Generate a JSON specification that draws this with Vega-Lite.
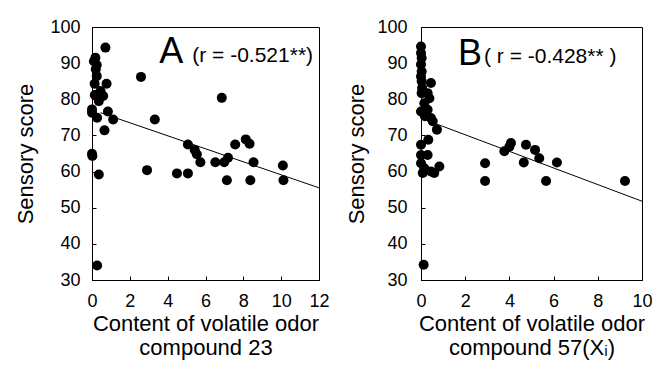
{
  "$schema": "https://vega.github.io/schema/vega-lite/v6.json",
  "background": "white",
  "padding": {"left": 14, "top": 17, "right": 5, "bottom": 5},
  "spacing": 15,
  "config": {
    "font": "Liberation Sans",
    "view": {"stroke": "black", "strokeWidth": 1},
    "axis": {
      "grid": false,
      "domainColor": "black",
      "tickColor": "black",
      "labelColor": "black",
      "titleColor": "black",
      "labelFont": "Liberation Sans",
      "titleFont": "Liberation Sans",
      "labelFontSize": 18,
      "titleFontSize": 22,
      "titleFontWeight": "normal",
      "tickSize": -4,
      "labelPadding": 16,
      "labelOverlap": false,
      "labelFlush": false,
      "titleLineHeight": 24
    },
    "axisQuantitative": {"labelOverlap": false},
    "axisX": {"titlePadding": 3},
    "axisY": {"titlePadding": 12}
  },
  "datasets": {
    "ptsA": [
      {"x": 0.71, "y": 94.3}, {"x": 0.18, "y": 91.5}, {"x": 0.1, "y": 90.5}, {"x": 0.25, "y": 89.5},
      {"x": 0.2, "y": 88.3}, {"x": 0.25, "y": 86.4}, {"x": 0.14, "y": 84.3}, {"x": 0.77, "y": 84.3},
      {"x": 0.45, "y": 82.3}, {"x": 0.15, "y": 81.2}, {"x": 0.59, "y": 80.9}, {"x": 0.36, "y": 79.5},
      {"x": 0.0, "y": 77.2}, {"x": 0.0, "y": 76.3}, {"x": 0.27, "y": 74.9}, {"x": 0.84, "y": 76.6},
      {"x": 1.12, "y": 74.4}, {"x": 0.66, "y": 71.4}, {"x": 0.0, "y": 64.9}, {"x": 0.02, "y": 64.3},
      {"x": 0.36, "y": 59.2}, {"x": 0.27, "y": 34.0},
      {"x": 2.59, "y": 86.2}, {"x": 3.32, "y": 74.4}, {"x": 2.91, "y": 60.4}, {"x": 4.49, "y": 59.5},
      {"x": 5.07, "y": 59.5}, {"x": 5.07, "y": 67.5}, {"x": 5.43, "y": 66.0}, {"x": 5.54, "y": 64.8},
      {"x": 5.73, "y": 62.6}, {"x": 6.52, "y": 62.6}, {"x": 6.86, "y": 80.4}, {"x": 6.99, "y": 62.6},
      {"x": 7.19, "y": 63.8}, {"x": 7.13, "y": 57.6}, {"x": 7.57, "y": 67.5}, {"x": 8.13, "y": 68.9},
      {"x": 8.33, "y": 67.7}, {"x": 8.54, "y": 62.6}, {"x": 8.37, "y": 57.6}, {"x": 10.09, "y": 61.7},
      {"x": 10.12, "y": 57.6}
    ],
    "lineA": [{"x": 0.45, "y": 76.3}, {"x": 12, "y": 55.5}],
    "ptsB": [
      {"x": 0.0, "y": 94.6}, {"x": 0.0, "y": 92.8}, {"x": 0.03, "y": 91.4}, {"x": 0.0, "y": 89.6},
      {"x": 0.03, "y": 87.7}, {"x": 0.0, "y": 86.3}, {"x": 0.03, "y": 85.0}, {"x": 0.45, "y": 84.5},
      {"x": 0.05, "y": 83.1}, {"x": 0.03, "y": 81.7}, {"x": 0.3, "y": 81.7}, {"x": 0.38, "y": 80.3},
      {"x": 0.15, "y": 78.9}, {"x": 0.3, "y": 77.1}, {"x": 0.0, "y": 76.6}, {"x": 0.18, "y": 75.3},
      {"x": 0.45, "y": 74.8}, {"x": 0.53, "y": 73.9}, {"x": 0.72, "y": 71.6}, {"x": 0.0, "y": 67.4},
      {"x": 0.33, "y": 68.8}, {"x": 0.0, "y": 64.6}, {"x": 0.3, "y": 64.6}, {"x": 0.0, "y": 62.3},
      {"x": 0.15, "y": 60.9}, {"x": 0.45, "y": 60.0}, {"x": 0.6, "y": 59.6}, {"x": 0.83, "y": 61.4},
      {"x": 0.08, "y": 59.6}, {"x": 0.12, "y": 34.2},
      {"x": 2.9, "y": 62.3}, {"x": 2.9, "y": 57.4}, {"x": 3.77, "y": 65.6}, {"x": 4.0, "y": 66.9},
      {"x": 4.07, "y": 67.9}, {"x": 4.65, "y": 62.5}, {"x": 4.75, "y": 67.4}, {"x": 5.16, "y": 66.0},
      {"x": 5.35, "y": 63.7}, {"x": 5.66, "y": 57.4}, {"x": 6.15, "y": 62.5}, {"x": 9.23, "y": 57.4}
    ],
    "lineB": [{"x": 0.6, "y": 73.4}, {"x": 10, "y": 51.8}]
  },
  "hconcat": [
    {
      "width": 227,
      "height": 253,
      "encoding": {
        "x": {"field": "x", "type": "quantitative", "scale": {"domain": [0, 12], "nice": false},
          "axis": {"values": [0, 2, 4, 6, 8, 10, 12], "labelOverlap": false, "title": ["Content of volatile odor", "compound 23"]}},
        "y": {"field": "y", "type": "quantitative", "scale": {"domain": [30, 100], "nice": false},
          "axis": {"values": [30, 40, 50, 60, 70, 80, 90, 100], "labelOverlap": false, "title": "Sensory score"}}
      },
      "layer": [
        {
          "data": {"name": "lineA"},
          "mark": {"type": "line", "color": "black", "strokeWidth": 1}
        },
        {
          "data": {"name": "ptsA"},
          "mark": {"type": "circle", "color": "black", "opacity": 1, "size": 100}
        },
        {
          "data": {"values": [{"x": 3.55, "y": 90, "label": "A"}]},
          "mark": {"type": "text", "align": "left", "baseline": "alphabetic", "fontSize": 36, "color": "black"},
          "encoding": {"text": {"field": "label"}}
        },
        {
          "data": {"values": [{"x": 5.3, "y": 90.2, "label": "(r = -0.521**)"}]},
          "mark": {"type": "text", "align": "left", "baseline": "alphabetic", "fontSize": 21, "color": "black"},
          "encoding": {"text": {"field": "label"}}
        }
      ]
    },
    {
      "width": 221,
      "height": 253,
      "encoding": {
        "x": {"field": "x", "type": "quantitative", "scale": {"domain": [0, 10], "nice": false},
          "axis": {"values": [0, 2, 4, 6, 8, 10], "labelOverlap": false, "title": ["Content of volatile odor", "compound 57(Xᵢ)"]}},
        "y": {"field": "y", "type": "quantitative", "scale": {"domain": [30, 100], "nice": false},
          "axis": {"values": [30, 40, 50, 60, 70, 80, 90, 100], "labelOverlap": false, "title": "Sensory score", "labelPadding": 18, "titlePadding": 8}}
      },
      "layer": [
        {
          "data": {"name": "lineB"},
          "mark": {"type": "line", "color": "black", "strokeWidth": 1}
        },
        {
          "data": {"name": "ptsB"},
          "mark": {"type": "circle", "color": "black", "opacity": 1, "size": 100}
        },
        {
          "data": {"values": [{"x": 1.67, "y": 89.5, "label": "B"}]},
          "mark": {"type": "text", "align": "left", "baseline": "alphabetic", "fontSize": 36, "color": "black"},
          "encoding": {"text": {"field": "label"}}
        },
        {
          "data": {"values": [{"x": 2.85, "y": 90.0, "label": "( r = -0.428** )"}]},
          "mark": {"type": "text", "align": "left", "baseline": "alphabetic", "fontSize": 21, "color": "black"},
          "encoding": {"text": {"field": "label"}}
        }
      ]
    }
  ]
}
